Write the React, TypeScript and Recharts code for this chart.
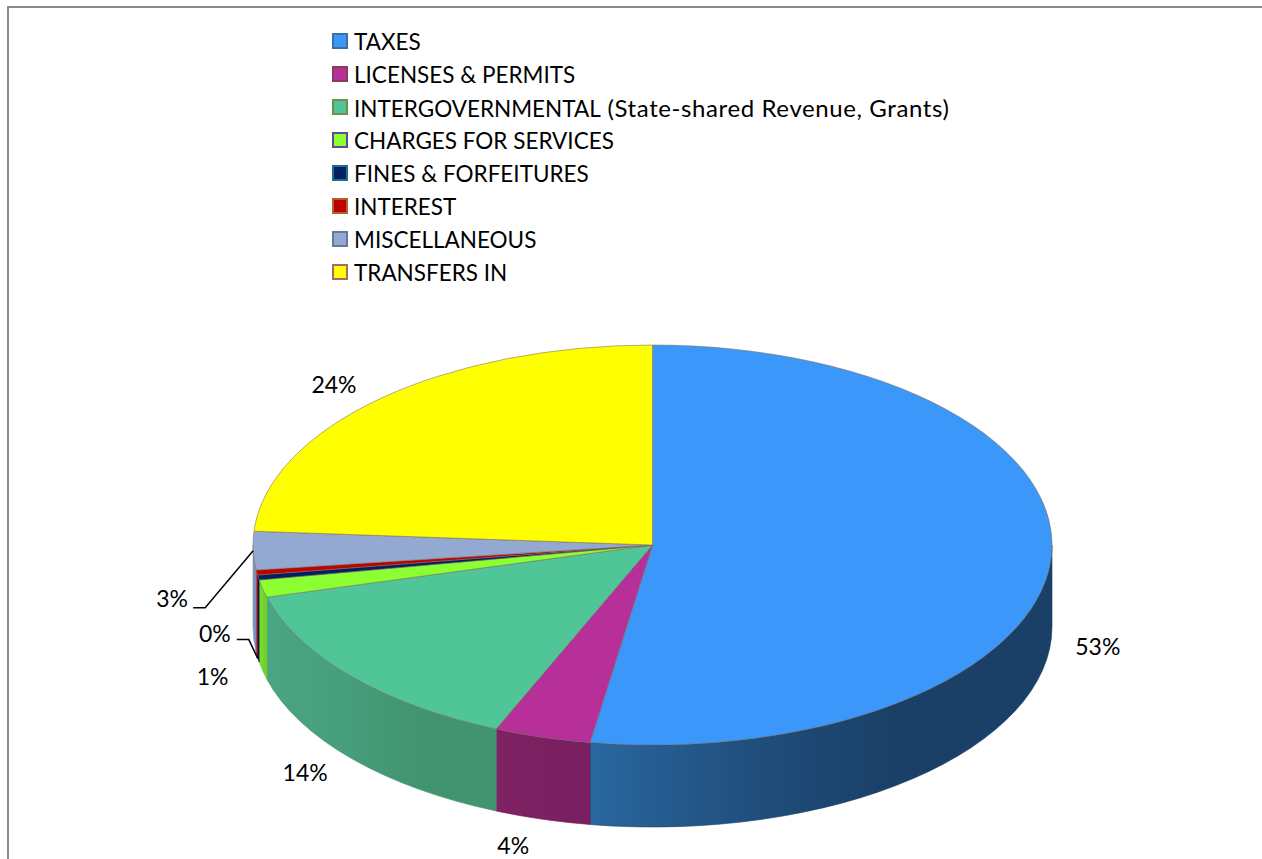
import React from "react";
import { PieChart, Pie, Legend } from "recharts";

const categories = [
  "TAXES",
  "LICENSES & PERMITS",
  "INTERGOVERNMENTAL (State-shared Revenue, Grants)",
  "CHARGES FOR SERVICES",
  "FINES & FORFEITURES",
  "INTEREST",
  "MISCELLANEOUS",
  "TRANSFERS IN",
];
const shares = [52.5, 3.9, 14.4, 1.4, 0.4, 0.4, 3.1, 23.9];

const topColors = ["#3c97fa", "#b72f98", "#50c698", "#8cff33", "#002060", "#c00000", "#93a9d1", "#ffff00"];
const wallLeft = ["#29679f", "#7f2264", "#4aa583", "#7fe02a", "#001c52", "#a00000", "#8296bf", "#d8d800"];
const wallMid = ["#204d7b", "#7c2162", "#469d7b", "#77d929", "#001c52", "#a00000", "#7f92ba", "#d8d800"];
const wallRight = ["#1a4067", "#7a1f60", "#429470", "#6fd128", "#001c52", "#a00000", "#7c8fb5", "#d8d800"];
const swatchBorders = ["#3a6ea5", "#8c3a5a", "#6f8f4f", "#5f4a9a", "#1f6f8f", "#a5682a", "#667a9a", "#a56a6a"];

// label offset from the rim point at the middle of each slice
const labelOffsets = [
  [47, 85],
  [-29, 108],
  [-46, 96],
  [-50, 87],
  null, // fines label is not shown in the original
  [-42, 60],
  [-81, 47],
  [-46, -15],
];
// leader lines, same reference point as the labels
const leaders: Record<number, number[][]> = {
  5: [[1, 86], [-8, 67], [-20, 67]],
  6: [[0, 0], [-48, 57], [-60, 57]],
};

const pieData = categories.map((name, i) => ({ name, value: shares[i], fill: topColors[i] }));

const CHART_W = 1262;
const CHART_H = 859;
const SQUASH = 200 / 399.5;
const DEPTH = 82;
const FONT = "Lato, sans-serif";
const RAD = Math.PI / 180;

// clockwise degrees from east, the way recharts' angles read on screen
function rim(cx: number, cy: number, r: number, clockwise: number) {
  return {
    x: cx + r * Math.cos(clockwise * RAD),
    y: cy + r * SQUASH * Math.sin(clockwise * RAD),
  };
}

function TopSlice(props: any) {
  const { cx, cy, outerRadius: r, startAngle, endAngle, fill } = props;
  const c0 = -startAngle;
  const c1 = -endAngle;
  const a = rim(cx, cy, r, c0);
  const b = rim(cx, cy, r, c1);
  const large = c1 - c0 > 180 ? 1 : 0;
  const d = `M${cx},${cy} L${a.x},${a.y} A${r},${r * SQUASH} 0 ${large} 1 ${b.x},${b.y} Z`;
  return <path d={d} fill={fill} stroke="#7a6a5a" strokeOpacity={0.55} strokeWidth={1} />;
}

function WallSlice(props: any) {
  const { cx, cy, outerRadius: r, startAngle, endAngle, index } = props;
  const lo = Math.max(-startAngle, 0);
  const hi = Math.min(-endAngle, 180);
  if (hi <= lo) return null;
  const a = rim(cx, cy, r, lo);
  const b = rim(cx, cy, r, hi);
  const ry = r * SQUASH;
  const d =
    `M${a.x},${a.y} A${r},${ry} 0 0 1 ${b.x},${b.y} ` +
    `L${b.x},${b.y + DEPTH} A${r},${ry} 0 0 0 ${a.x},${a.y + DEPTH} Z`;
  const id = `wall-${index}`;
  return (
    <g>
      <defs>
        <linearGradient id={id} gradientUnits="userSpaceOnUse" x1={Math.min(a.x, b.x)} x2={Math.max(a.x, b.x) + 1} y1={0} y2={0}>
          <stop offset="0%" stopColor={wallLeft[index]} />
          <stop offset="37%" stopColor={wallMid[index]} />
          <stop offset="65%" stopColor={wallRight[index]} />
        </linearGradient>
      </defs>
      <path d={d} fill={`url(#${id})`} stroke={wallRight[index]} strokeWidth={0.6} />
    </g>
  );
}

function PercentLabel(props: any) {
  const { cx, cy, outerRadius: r, midAngle, percent, index } = props;
  const offset = labelOffsets[index];
  if (!offset) return null;
  const p = rim(cx, cy, r, -midAngle);
  const line = leaders[index];
  return (
    <g>
      {line && (
        <polyline
          points={line.map(([dx, dy]) => `${p.x + dx},${p.y + dy}`).join(" ")}
          fill="none"
          stroke="#000"
          strokeWidth={1.5}
        />
      )}
      <text
        x={p.x + offset[0]}
        y={p.y + offset[1]}
        textAnchor="middle"
        dominantBaseline="central"
        fontFamily={FONT}
        fontSize={23}
        fill="#000"
      >
        {`${Math.round(percent * 100)}%`}
      </text>
    </g>
  );
}

function LegendList() {
  return (
    <div style={{ fontFamily: FONT, fontSize: 22.5, color: "#000", textAlign: "left" }}>
      {categories.map((name, i) => {
        const cut = name.indexOf(" (");
        return (
          <div key={name} style={{ display: "flex", alignItems: "center", height: 33, whiteSpace: "pre" }}>
            <span
              style={{
                width: 12,
                height: 12,
                marginRight: 6,
                background: topColors[i],
                border: `2px solid ${swatchBorders[i]}`,
                flex: "none",
              }}
            />
            {cut < 0 ? (
              name
            ) : (
              <span>
                {name.slice(0, cut)}
                <span style={{ fontSize: 24, letterSpacing: 0.6 }}>{name.slice(cut)}</span>
              </span>
            )}
          </div>
        );
      })}
    </div>
  );
}

export default function App() {
  return (
    <div style={{ position: "absolute", left: 0, top: 0, width: CHART_W, height: CHART_H, overflow: "hidden", background: "#fff" }}>
      <div
        style={{
          position: "absolute",
          left: 7,
          top: 6,
          right: -10,
          bottom: -10,
          borderTop: "2px solid #8a8a8a",
          borderLeft: "2px solid #8a8a8a",
        }}
      />
      <PieChart width={CHART_W} height={CHART_H} margin={{ top: 0, right: 0, bottom: 0, left: 0 }}>
        {/* centred + vertical keeps the legend from eating into the plot area */}
        <Legend
          layout="vertical"
          align="center"
          verticalAlign="middle"
          content={<LegendList />}
          wrapperStyle={{ left: 332, top: 24.5, width: 660 }}
        />
        <Pie
          data={pieData}
          dataKey="value"
          nameKey="name"
          cx={652.5}
          cy={545}
          outerRadius={399.5}
          startAngle={90}
          endAngle={-270}
          legendType="none"
          shape={WallSlice}
          isAnimationActive={false}
        />
        <Pie
          data={pieData}
          dataKey="value"
          nameKey="name"
          cx={652.5}
          cy={545}
          outerRadius={399.5}
          startAngle={90}
          endAngle={-270}
          shape={TopSlice}
          label={PercentLabel}
          labelLine={false}
          isAnimationActive={false}
        />
      </PieChart>
    </div>
  );
}
